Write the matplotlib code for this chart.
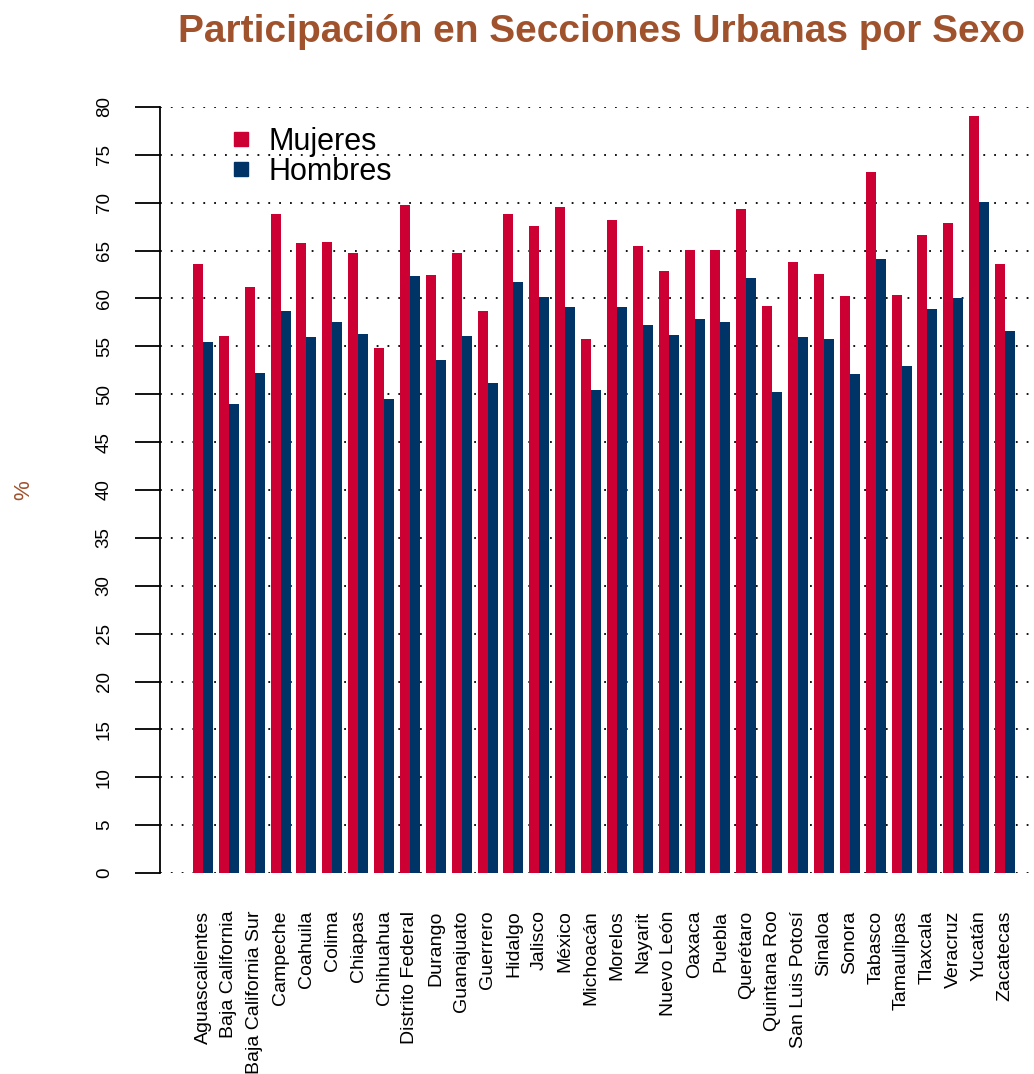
import numpy as np
import matplotlib
matplotlib.use('Agg')
import matplotlib.pyplot as plt
from matplotlib.lines import Line2D

plt.rcParams['font.family'] = ['Liberation Sans', 'DejaVu Sans']

estados = ['Aguascalientes', 'Baja California', 'Baja California Sur', 'Campeche',
           'Coahuila', 'Colima', 'Chiapas', 'Chihuahua', 'Distrito Federal', 'Durango',
           'Guanajuato', 'Guerrero', 'Hidalgo', 'Jalisco', 'México', 'Michoacán',
           'Morelos', 'Nayarit', 'Nuevo León', 'Oaxaca', 'Puebla', 'Querétaro',
           'Quintana Roo', 'San Luis Potosí', 'Sinaloa', 'Sonora', 'Tabasco',
           'Tamaulipas', 'Tlaxcala', 'Veracruz', 'Yucatán', 'Zacatecas']
mujeres = [63.6, 56.1, 61.2, 68.8, 65.8, 65.9, 64.7, 54.8, 69.8, 62.5,
           64.7, 58.7, 68.8, 67.6, 69.6, 55.8, 68.2, 65.5, 62.9, 65.1,
           65.1, 69.3, 59.2, 63.8, 62.6, 60.3, 73.2, 60.4, 66.6, 67.9,
           79.1, 63.6]
hombres = [55.5, 49.0, 52.2, 58.7, 56.0, 57.5, 56.3, 49.5, 62.4, 53.6,
           56.1, 51.2, 61.7, 60.2, 59.1, 50.4, 59.1, 57.2, 56.2, 57.9,
           57.5, 62.1, 50.2, 56.0, 55.8, 52.1, 64.1, 53.0, 58.9, 60.1,
           70.1, 56.6]

rojo = '#CC0033'
azul = '#003366'
siena = '#A0522D'

fig = plt.figure(figsize=(10.34, 10.74), dpi=100)
ax = fig.add_axes([160/1034, 201/1074, 874/1034, 766/1074])

x = np.arange(len(estados))
w = 0.3866
ax.bar(x - w/2, mujeres, width=w, color=rojo, zorder=2)
ax.bar(x + w/2, hombres, width=w, color=azul, zorder=2)

ax.set_xlim(-1.662, 32.12)
ax.set_ylim(0, 80)

# rejilla punteada
for yv in range(0, 81, 5):
    ax.axhline(yv, color='black', linestyle=(0, (1, 5)), linewidth=1.3, zorder=1)

ax.set_yticks(range(0, 81, 5))
ax.set_yticklabels([str(v) for v in range(0, 81, 5)], rotation=90, va='center', fontsize=13.5)
ax.tick_params(axis='y', length=18, width=1.3, pad=16)
ax.set_xticks(x)
ax.set_xticklabels(estados, rotation=90, fontsize=14)
ax.tick_params(axis='x', length=0, pad=27)

for s in ['top', 'right', 'bottom']:
    ax.spines[s].set_visible(False)
ax.spines['left'].set_linewidth(1.3)

ax.set_title('Participación en Secciones Urbanas por Sexo', fontsize=28,
             fontweight='bold', color=siena, pad=47, x=0.505)
ax.set_ylabel('%', color=siena, fontsize=16, labelpad=44)

handles = [Line2D([], [], marker='s', linestyle='none', color=rojo, markersize=10),
           Line2D([], [], marker='s', linestyle='none', color=azul, markersize=10)]
ax.legend(handles, ['Mujeres', 'Hombres'], loc='upper left',
          bbox_to_anchor=(0.047, 1.002), frameon=False, fontsize=22,
          handletextpad=0.3, labelspacing=0.0, handlelength=1.2, borderpad=0.2)

fig.savefig('out.png', dpi=100)
